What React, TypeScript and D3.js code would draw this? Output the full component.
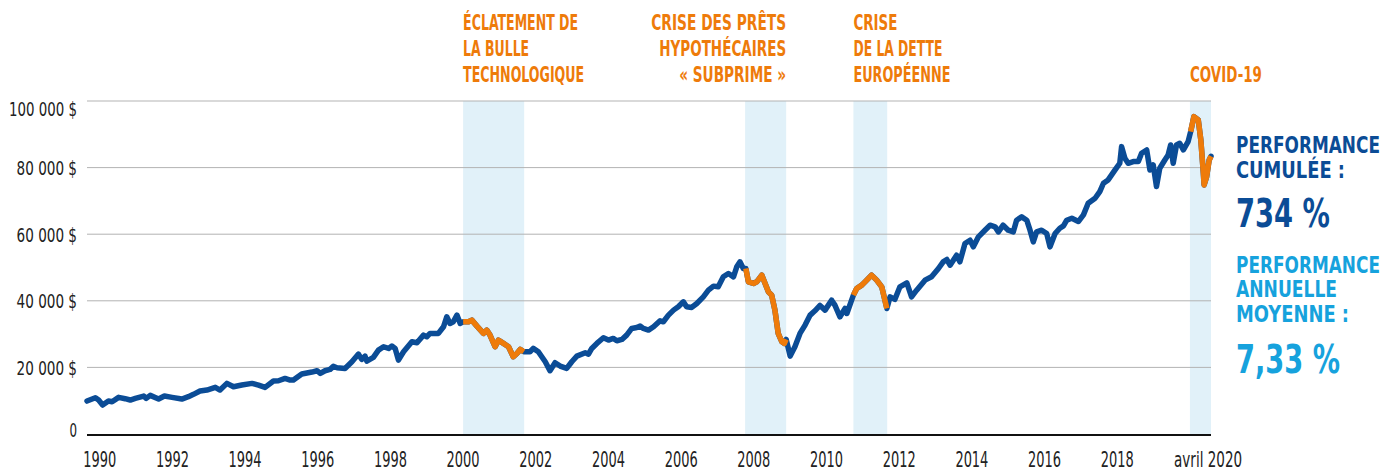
import React from 'react';
import * as d3 from 'd3';

// decimal year of each reading, and portfolio value in $
const dates = [
  1989.65, 1989.88, 1989.97, 1990.08, 1990.24, 1990.34, 1990.52, 1990.70, 1990.84, 1990.98,
  1991.21, 1991.28, 1991.39, 1991.62, 1991.78, 1991.99, 1992.26, 1992.44, 1992.58, 1992.76,
  1992.95, 1993.18, 1993.31, 1993.50, 1993.68, 1993.91, 1994.19, 1994.37, 1994.55, 1994.78,
  1994.92, 1995.10, 1995.24, 1995.33, 1995.56, 1995.84, 1995.98, 1996.07, 1996.20, 1996.34,
  1996.43, 1996.53, 1996.75, 1996.94, 1997.12, 1997.21, 1997.30, 1997.35, 1997.53, 1997.67,
  1997.81, 1997.95, 1998.04, 1998.13, 1998.22, 1998.36, 1998.59, 1998.73, 1998.91, 1999.00,
  1999.09, 1999.32, 1999.46, 1999.55, 1999.64, 1999.73, 1999.83, 1999.92, 2000.00, 2000.15,
  2000.24, 2000.38, 2000.56, 2000.65, 2000.74, 2000.88, 2000.97, 2001.11, 2001.25, 2001.38,
  2001.48, 2001.57, 2001.67, 2001.84, 2001.93, 2002.07, 2002.26, 2002.39, 2002.53, 2002.67,
  2002.85, 2002.99, 2003.13, 2003.36, 2003.45, 2003.54, 2003.68, 2003.86, 2004.00, 2004.13,
  2004.23, 2004.37, 2004.50, 2004.64, 2004.78, 2004.87, 2004.96, 2005.10, 2005.24, 2005.42,
  2005.51, 2005.65, 2005.79, 2005.92, 2006.06, 2006.15, 2006.29, 2006.43, 2006.61, 2006.75,
  2006.89, 2007.02, 2007.16, 2007.30, 2007.44, 2007.53, 2007.62, 2007.71, 2007.78, 2007.85,
  2007.99, 2008.08, 2008.22, 2008.31, 2008.40, 2008.49, 2008.58, 2008.67, 2008.77, 2008.84,
  2008.89, 2009.00, 2009.13, 2009.27, 2009.41, 2009.55, 2009.68, 2009.82, 2009.96, 2010.14,
  2010.23, 2010.37, 2010.51, 2010.56, 2010.74, 2010.83, 2010.97, 2011.06, 2011.24, 2011.38,
  2011.52, 2011.66, 2011.75, 2011.88, 2012.02, 2012.21, 2012.34, 2012.48, 2012.71, 2012.89,
  2013.08, 2013.21, 2013.31, 2013.40, 2013.58, 2013.67, 2013.81, 2013.95, 2014.04, 2014.18,
  2014.36, 2014.50, 2014.64, 2014.73, 2014.86, 2015.00, 2015.14, 2015.23, 2015.37, 2015.51,
  2015.60, 2015.69, 2015.78, 2015.92, 2016.06, 2016.15, 2016.29, 2016.42, 2016.52, 2016.61,
  2016.75, 2016.93, 2017.07, 2017.20, 2017.39, 2017.52, 2017.62, 2017.75, 2017.94, 2018.07,
  2018.12, 2018.21, 2018.30, 2018.44, 2018.58, 2018.67, 2018.81, 2018.90, 2018.99, 2019.08,
  2019.17, 2019.31, 2019.40, 2019.47, 2019.54, 2019.63, 2019.72, 2019.82, 2019.95, 2020.02,
  2020.11, 2020.23, 2020.30, 2020.37, 2020.39, 2020.46, 2020.53, 2020.58,
];

const values = [
  9900, 10900, 10200, 8700, 9900, 9700, 11000, 10600, 10200, 10700,
  11400, 10700, 11600, 10500, 11400, 11000, 10500, 11200, 11900, 12900,
  13200, 14000, 13200, 15200, 14200, 14700, 15200, 14700, 14000, 15900,
  16000, 16700, 16200, 16200, 18000, 18600, 19000, 18200, 19000, 19400,
  20300, 19900, 19700, 21700, 24000, 22400, 23400, 21900, 23000, 25200,
  26200, 25700, 26400, 25700, 22200, 24700, 27700, 27400, 29700, 29200,
  30200, 30200, 32200, 35200, 33200, 33700, 35700, 33200, 33700, 33700,
  34200, 32400, 30200, 31200, 29700, 26200, 28200, 27200, 26200, 23200,
  24200, 25400, 24700, 24700, 25700, 24700, 21700, 19000, 21400, 20400,
  19700, 21700, 23400, 24400, 24000, 25700, 27200, 28900, 28200, 28700,
  28000, 28400, 29700, 31700, 32000, 32400, 31700, 31200, 32200, 34000,
  33700, 35700, 37200, 38200, 39700, 38200, 38000, 39200, 41200, 43200,
  44400, 44200, 47200, 48200, 47200, 50200, 51700, 49700, 49700, 45700,
  45200, 45700, 47700, 45200, 42700, 41700, 37200, 30200, 27700, 27200,
  28400, 23400, 26200, 30200, 32700, 35700, 37000, 38600, 37200, 40200,
  38700, 35200, 37700, 36200, 41700, 43700, 44700, 45700, 47700, 46200,
  44200, 37700, 41200, 40400, 44200, 45400, 41200, 43200, 46200, 47200,
  49700, 51700, 52400, 50700, 53700, 51700, 57200, 58200, 56200, 59200,
  61200, 62700, 62200, 60700, 62700, 61200, 60700, 64200, 65200, 64200,
  61200, 57700, 60700, 61200, 60200, 56200, 60200, 61800, 62500, 64200,
  64800, 63800, 65800, 69300, 70800, 72800, 75300, 76300, 79300, 81300,
  86300, 82800, 81300, 81800, 81800, 84300, 85300, 79300, 80800, 74300,
  79800, 82300, 83800, 86800, 81300, 86800, 87300, 85300, 87800, 90800,
  95300, 94300, 88300, 78300, 74800, 77300, 82300, 83400,
];

// crisis periods (shaded band + orange part of the line)
const crisisStarts = [2000.0, 2007.76, 2010.74, 2020.0];
const crisisEnds = [2001.68, 2008.89, 2011.67, 2020.58];
const crisisLabels = [
  ['ÉCLATEMENT DE', 'LA BULLE', 'TECHNOLOGIQUE'],
  ['CRISE DES PRÊTS', 'HYPOTHÉCAIRES', '« SUBPRIME »'],
  ['CRISE', 'DE LA DETTE', 'EUROPÉENNE'],
  ['COVID-19'],
];

const yTicks = [0, 20000, 40000, 60000, 80000, 100000];
const xTickYears = [1990, 1992, 1994, 1996, 1998, 2000, 2002, 2004, 2006, 2008, 2010, 2012, 2014, 2016, 2018];
const lastTickDate = 2020.5;
const lastTickLabel = 'avril 2020';

const BLUE = '#0b4c96';
const LIGHT_BLUE = '#16a2dd';
const ORANGE = '#ee7b0a';
const BAND = '#e1f1f9';
const COND = "'Liberation Sans Narrow', 'DejaVu Sans Condensed', 'Roboto', sans-serif";

// label text widths (px) and alignment per crisis
const labelWidths = [[115, 66, 121], [135, 127, 107], [44, 89, 97], [72]];
const labelAnchor = ['start', 'end', 'start', 'start'];

const fmt = (v: number) => (v === 0 ? '0' : d3.format(',')(v).replace(/,/g, ' ') + ' $');

export default function App() {
  const x = d3.scaleLinear().domain([1989.65, 2020.58]).range([87, 1211]);
  const y = d3.scaleLinear().domain([0, 100000]).range([434, 101]);

  const points: [number, number][] = dates.map((d, i) => [d, values[i]]);
  const line = d3
    .line<[number, number]>()
    .x((d) => x(d[0]))
    .y((d) => y(d[1]));

  const x0 = x.range()[0];
  const x1 = x.range()[1];

  return (
    <div style={{ position: 'absolute', left: 0, top: 0, background: '#fff' }}>
      <svg width={1386} height={472} style={{ display: 'block' }}>
        {/* shaded crisis bands */}
        {crisisStarts.map((s, i) => (
          <rect key={'b' + i} x={x(s)} y={y(100000)} width={x(crisisEnds[i]) - x(s)} height={y(0) - y(100000) + 2} fill={BAND} />
        ))}

        {/* grid */}
        {yTicks.filter((t) => t > 0).map((t) => (
          <line key={'g' + t} x1={x0} x2={x1} y1={y(t)} y2={y(t)} stroke="#b3b3b3" strokeWidth={1} />
        ))}
        <line x1={x0} x2={x1} y1={y(0) + 1} y2={y(0) + 1} stroke="#111" strokeWidth={2} />

        {/* y labels */}
        {yTicks.map((t) => {
          const s = fmt(t);
          return (
            <text
              key={'yl' + t}
              x={77}
              y={y(t) + (t === 100000 ? 9 : t === 0 ? -3 : 2)}
              textAnchor="end"
              dominantBaseline="middle"
              fontFamily={COND}
              fontSize={19.5}
              fill="#222"
              textLength={s.length * 7.55}
              lengthAdjust="spacingAndGlyphs"
            >
              {s}
            </text>
          );
        })}

        {/* x labels */}
        {xTickYears.map((yr) => (
          <text
            key={'xl' + yr}
            x={x(yr)}
            y={467}
            textAnchor="middle"
            fontFamily={COND}
            fontSize={20.5}
            fill="#222"
            textLength={33}
            lengthAdjust="spacingAndGlyphs"
          >
            {yr}
          </text>
        ))}
        <text
          x={x(lastTickDate)}
          y={467}
          textAnchor="middle"
          fontFamily={COND}
          fontSize={20.5}
          fill="#222"
          textLength={68}
          lengthAdjust="spacingAndGlyphs"
        >
          {lastTickLabel}
        </text>

        {/* main line */}
        <path d={line(points) || ''} fill="none" stroke={BLUE} strokeWidth={5.5} strokeLinejoin="round" strokeLinecap="round" />
        {crisisStarts.map((s, i) => {
          const seg = points.filter((p) => p[0] >= s - 0.005 && p[0] <= crisisEnds[i] + 0.005);
          return (
            <path key={'o' + i} d={line(seg) || ''} fill="none" stroke={ORANGE} strokeWidth={5.5} strokeLinejoin="round" strokeLinecap="butt" />
          );
        })}

        {/* crisis annotations */}
        {crisisLabels.map((lines, i) => {
          const ax = labelAnchor[i] === 'end' ? x(crisisEnds[i]) : x(crisisStarts[i]);
          const top = lines.length === 1 ? 82 : 30;
          return lines.map((txt, j) => (
            <text
              key={'a' + i + j}
              x={ax}
              y={top + j * 26}
              textAnchor={labelAnchor[i]}
              fontFamily={COND}
              fontWeight="bold"
              fontSize={21}
              fill={ORANGE}
              textLength={labelWidths[i][j]}
              lengthAdjust="spacingAndGlyphs"
            >
              {txt}
            </text>
          ));
        })}

        {/* performance summary */}
        <g fontFamily={COND} fontWeight="bold">
          <text x={1236} y={153} fontSize={23} fill={BLUE} textLength={144} lengthAdjust="spacingAndGlyphs">PERFORMANCE</text>
          <text x={1236} y={178} fontSize={23} fill={BLUE} textLength={109} lengthAdjust="spacingAndGlyphs">CUMULÉE :</text>
          <text x={1236} y={227} fontSize={39} fill={BLUE} textLength={94} lengthAdjust="spacingAndGlyphs">734 %</text>
          <text x={1236} y={273} fontSize={23} fill={LIGHT_BLUE} textLength={144} lengthAdjust="spacingAndGlyphs">PERFORMANCE</text>
          <text x={1236} y={297} fontSize={23} fill={LIGHT_BLUE} textLength={101} lengthAdjust="spacingAndGlyphs">ANNUELLE</text>
          <text x={1236} y={322} fontSize={23} fill={LIGHT_BLUE} textLength={113} lengthAdjust="spacingAndGlyphs">MOYENNE :</text>
          <text x={1236} y={373} fontSize={39} fill={LIGHT_BLUE} textLength={104} lengthAdjust="spacingAndGlyphs">7,33 %</text>
        </g>
      </svg>
    </div>
  );
}
